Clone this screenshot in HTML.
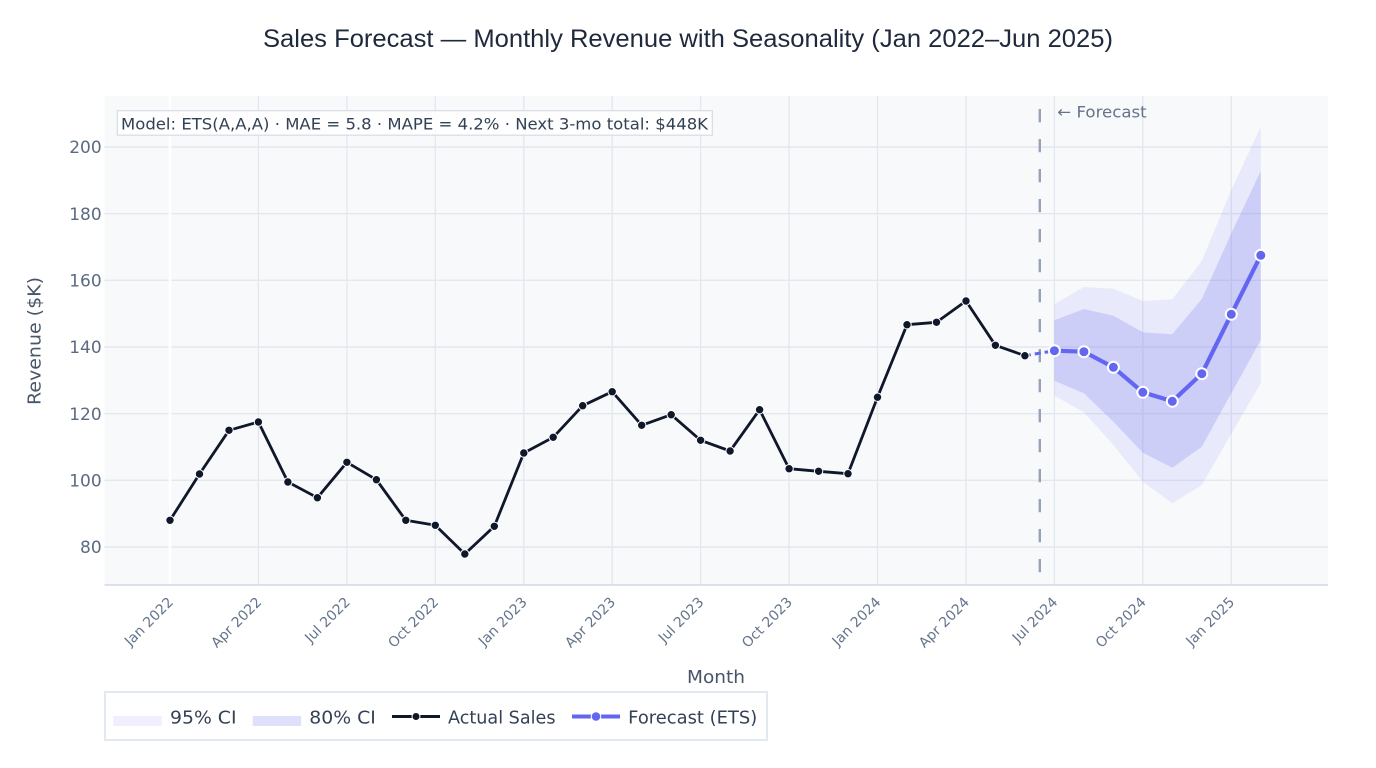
<!DOCTYPE html>
<html>
<head>
<meta charset="utf-8">
<style>
  html,body{margin:0;padding:0;background:#ffffff;}
  svg{display:block;}
  .t{font-family:"DejaVu Sans","Liberation Sans",sans-serif;}
</style>
</head>
<body>
<svg width="1376" height="768" viewBox="0 0 1376 768" xmlns="http://www.w3.org/2000/svg">
  <rect x="0" y="0" width="1376" height="768" fill="#ffffff"/>
  <!-- Title -->
  <text x="688" y="47" text-anchor="middle" font-family="'Liberation Sans',Arial,sans-serif" font-size="25" fill="#1e293b" textLength="850" lengthAdjust="spacingAndGlyphs">Sales Forecast — Monthly Revenue with Seasonality (Jan 2022–Jun 2025)</text>

  <!-- Plot background -->
  <rect x="104.5" y="96" width="1223.5" height="489" fill="#f8f9fb"/>

  <!-- Horizontal gridlines -->
  <g stroke="#e3e8ef" stroke-width="1.4">
    <line x1="104.5" x2="1328" y1="147" y2="147"/>
    <line x1="104.5" x2="1328" y1="213.7" y2="213.7"/>
    <line x1="104.5" x2="1328" y1="280.3" y2="280.3"/>
    <line x1="104.5" x2="1328" y1="347" y2="347"/>
    <line x1="104.5" x2="1328" y1="413.7" y2="413.7"/>
    <line x1="104.5" x2="1328" y1="480.3" y2="480.3"/>
    <line x1="104.5" x2="1328" y1="547" y2="547"/>
  </g>
  <!-- Vertical gridlines -->
  <g stroke="#e3e8ef" stroke-width="1.4">
    <line x1="258.4" x2="258.4" y1="96" y2="585"/>
    <line x1="346.9" x2="346.9" y1="96" y2="585"/>
    <line x1="435.3" x2="435.3" y1="96" y2="585"/>
    <line x1="523.8" x2="523.8" y1="96" y2="585"/>
    <line x1="612.2" x2="612.2" y1="96" y2="585"/>
    <line x1="700.6" x2="700.6" y1="96" y2="585"/>
    <line x1="789.1" x2="789.1" y1="96" y2="585"/>
    <line x1="877.5" x2="877.5" y1="96" y2="585"/>
    <line x1="966.0" x2="966.0" y1="96" y2="585"/>
    <line x1="1054.4" x2="1054.4" y1="96" y2="585"/>
    <line x1="1142.8" x2="1142.8" y1="96" y2="585"/>
    <line x1="1231.3" x2="1231.3" y1="96" y2="585"/>
  </g>
  <line x1="170" x2="170" y1="96" y2="585" stroke="#ffffff" stroke-width="2.5"/>

  <!-- Bottom axis line -->
  <line x1="104.5" x2="1328" y1="585" y2="585" stroke="#cfd8e3" stroke-width="1.5"/>

  <!-- 95% CI band -->
  <polygon fill="rgb(99,102,241)" fill-opacity="0.1"
    points="1054.4,304.3 1083.9,287 1113.4,288.7 1142.8,301 1172.3,299.3 1201.8,261 1231.3,190 1260.8,126.7 1260.8,383.3 1231.3,433.7 1201.8,485 1172.3,503.3 1142.8,481.7 1113.4,445 1083.9,412.3 1054.4,395.7"/>
  <!-- 80% CI band -->
  <polygon fill="rgb(99,102,241)" fill-opacity="0.2"
    points="1054.4,320.3 1083.9,309 1113.4,315.7 1142.8,332.3 1172.3,334.3 1201.8,299 1231.3,233.3 1260.8,171 1260.8,340 1231.3,393.3 1201.8,446.7 1172.3,467.7 1142.8,452.7 1113.4,421.7 1083.9,393.3 1054.4,380.7"/>

  <!-- Forecast divider -->
  <line x1="1039.8" x2="1039.8" y1="109" y2="585" stroke="#94a3b8" stroke-width="2.4" stroke-dasharray="13.3,16.7"/>
  <text class="t" x="1057.3" y="117.3" font-size="16" fill="#64748b" textLength="89.4" lengthAdjust="spacingAndGlyphs">← Forecast</text>

  <!-- Connector -->
  <line x1="1024.9" y1="355.7" x2="1054.4" y2="350.7" stroke="#6366f1" stroke-width="3" stroke-dasharray="6,4"/>

  <!-- Actual sales -->
  <polyline fill="none" stroke="#0f172a" stroke-width="2.8" stroke-linejoin="round"
    points="170,520.3 199.5,474 229.0,430.3 258.4,422 287.9,482 317.4,497.7 346.9,462.3 376.4,479.7 405.8,520.3 435.3,525.3 464.8,554 494.3,526.3 523.8,453 553.2,437.3 582.7,405.7 612.2,391.7 641.7,425.3 671.2,414.7 700.6,440.3 730.1,451 759.6,409.7 789.1,468.7 818.6,471.3 848.0,473.7 877.5,397.2 907.0,324.7 936.5,322.3 966.0,301 995.4,345.3 1024.9,355.7"/>
  <g fill="#0f172a" stroke="#ffffff" stroke-width="1">
    <circle cx="170" cy="520.3" r="4.2"/>
    <circle cx="199.5" cy="474" r="4.2"/>
    <circle cx="229.0" cy="430.3" r="4.2"/>
    <circle cx="258.4" cy="422" r="4.2"/>
    <circle cx="287.9" cy="482" r="4.2"/>
    <circle cx="317.4" cy="497.7" r="4.2"/>
    <circle cx="346.9" cy="462.3" r="4.2"/>
    <circle cx="376.4" cy="479.7" r="4.2"/>
    <circle cx="405.8" cy="520.3" r="4.2"/>
    <circle cx="435.3" cy="525.3" r="4.2"/>
    <circle cx="464.8" cy="554" r="4.2"/>
    <circle cx="494.3" cy="526.3" r="4.2"/>
    <circle cx="523.8" cy="453" r="4.2"/>
    <circle cx="553.2" cy="437.3" r="4.2"/>
    <circle cx="582.7" cy="405.7" r="4.2"/>
    <circle cx="612.2" cy="391.7" r="4.2"/>
    <circle cx="641.7" cy="425.3" r="4.2"/>
    <circle cx="671.2" cy="414.7" r="4.2"/>
    <circle cx="700.6" cy="440.3" r="4.2"/>
    <circle cx="730.1" cy="451" r="4.2"/>
    <circle cx="759.6" cy="409.7" r="4.2"/>
    <circle cx="789.1" cy="468.7" r="4.2"/>
    <circle cx="818.6" cy="471.3" r="4.2"/>
    <circle cx="848.0" cy="473.7" r="4.2"/>
    <circle cx="877.5" cy="397.2" r="4.2"/>
    <circle cx="907.0" cy="324.7" r="4.2"/>
    <circle cx="936.5" cy="322.3" r="4.2"/>
    <circle cx="966.0" cy="301" r="4.2"/>
    <circle cx="995.4" cy="345.3" r="4.2"/>
    <circle cx="1024.9" cy="355.7" r="4.2"/>
  </g>

  <!-- Forecast -->
  <polyline fill="none" stroke="#6366f1" stroke-width="4.2" stroke-linejoin="round"
    points="1054.4,350.7 1083.9,351.7 1113.4,367.3 1142.8,392.3 1172.3,401.3 1201.8,373.7 1231.3,314.3 1260.8,255.3"/>
  <g fill="#6366f1" stroke="#ffffff" stroke-width="2">
    <circle cx="1054.4" cy="350.7" r="5.5"/>
    <circle cx="1083.9" cy="351.7" r="5.5"/>
    <circle cx="1113.4" cy="367.3" r="5.5"/>
    <circle cx="1142.8" cy="392.3" r="5.5"/>
    <circle cx="1172.3" cy="401.3" r="5.5"/>
    <circle cx="1201.8" cy="373.7" r="5.5"/>
    <circle cx="1231.3" cy="314.3" r="5.5"/>
    <circle cx="1260.8" cy="255.3" r="5.5"/>
  </g>

  <!-- Model annotation -->
  <rect x="117.3" y="110.7" width="595" height="24.5" fill="#ffffff" fill-opacity="0.85" stroke="#d5dce6" stroke-width="1.2"/>
  <text class="t" x="121" y="129.3" font-size="16" fill="#334155" textLength="587" lengthAdjust="spacingAndGlyphs">Model: ETS(A,A,A) · MAE = 5.8 · MAPE = 4.2% · Next 3-mo total: $448K</text>

  <!-- Y tick labels -->
  <g class="t" font-size="17" fill="#5b6b82" text-anchor="end">
    <text x="101.7" y="153.2">200</text>
    <text x="101.7" y="219.9">180</text>
    <text x="101.7" y="286.5">160</text>
    <text x="101.7" y="353.2">140</text>
    <text x="101.7" y="419.9">120</text>
    <text x="101.7" y="486.5">100</text>
    <text x="101.7" y="553.2">80</text>
  </g>
  <!-- Y axis title -->
  <text class="t" transform="translate(40.5,341) rotate(-90)" text-anchor="middle" font-size="18" fill="#475569" textLength="128" lengthAdjust="spacingAndGlyphs">Revenue ($K)</text>

  <!-- X tick labels -->
  <g class="t" font-size="14" fill="#64748b" text-anchor="end">
    <text transform="translate(174,603) rotate(-45)">Jan 2022</text>
    <text transform="translate(262.4,603) rotate(-45)">Apr 2022</text>
    <text transform="translate(350.9,603) rotate(-45)">Jul 2022</text>
    <text transform="translate(439.3,603) rotate(-45)">Oct 2022</text>
    <text transform="translate(527.8,603) rotate(-45)">Jan 2023</text>
    <text transform="translate(616.2,603) rotate(-45)">Apr 2023</text>
    <text transform="translate(704.6,603) rotate(-45)">Jul 2023</text>
    <text transform="translate(793.1,603) rotate(-45)">Oct 2023</text>
    <text transform="translate(881.5,603) rotate(-45)">Jan 2024</text>
    <text transform="translate(970.0,603) rotate(-45)">Apr 2024</text>
    <text transform="translate(1058.4,603) rotate(-45)">Jul 2024</text>
    <text transform="translate(1146.8,603) rotate(-45)">Oct 2024</text>
    <text transform="translate(1235.3,603) rotate(-45)">Jan 2025</text>
  </g>
  <!-- X axis title -->
  <text class="t" x="716" y="683" text-anchor="middle" font-size="18" fill="#475569" textLength="58" lengthAdjust="spacingAndGlyphs">Month</text>

  <!-- Legend -->
  <rect x="105" y="692" width="662" height="48" fill="#ffffff" stroke="#e2e8f0" stroke-width="2"/>
  <rect x="113.3" y="716" width="48.4" height="10" fill="#efeffd"/>
  <text class="t" x="170" y="723.3" font-size="17.5" fill="#334155" textLength="66.5" lengthAdjust="spacingAndGlyphs">95% CI</text>
  <rect x="252.7" y="716" width="48.4" height="10" fill="#dfe0fb"/>
  <text class="t" x="309.3" y="723.3" font-size="17.5" fill="#334155" textLength="66.5" lengthAdjust="spacingAndGlyphs">80% CI</text>
  <line x1="392" x2="440" y1="716.5" y2="716.5" stroke="#0f172a" stroke-width="3"/>
  <circle cx="416" cy="716.5" r="4" fill="#0f172a" stroke="#ffffff" stroke-width="1"/>
  <text class="t" x="448" y="723.3" font-size="17.5" fill="#334155" textLength="107.5" lengthAdjust="spacingAndGlyphs">Actual Sales</text>
  <line x1="572" x2="620" y1="716.5" y2="716.5" stroke="#6366f1" stroke-width="4"/>
  <circle cx="596" cy="716.5" r="4.8" fill="#6366f1" stroke="#ffffff" stroke-width="1"/>
  <text class="t" x="628.2" y="723.3" font-size="17.5" fill="#334155" textLength="129" lengthAdjust="spacingAndGlyphs">Forecast (ETS)</text>
</svg>
</body>
</html>
